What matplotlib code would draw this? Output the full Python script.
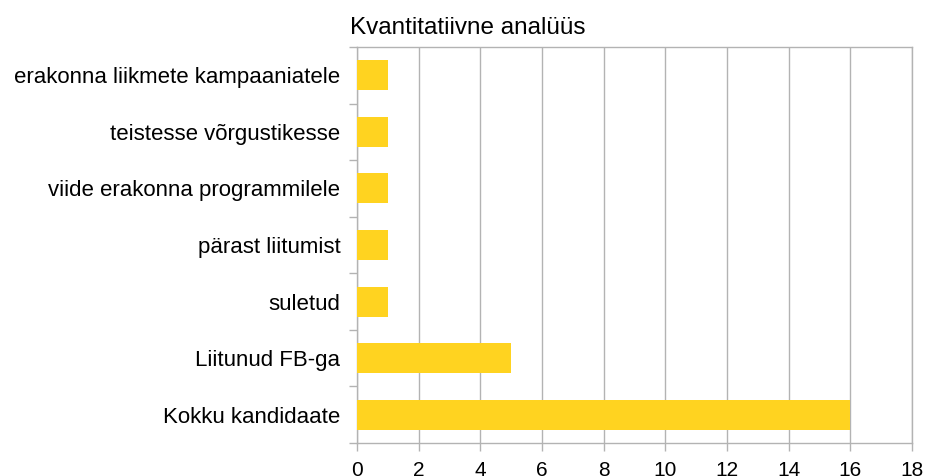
import numpy as np
import matplotlib.pyplot as plt
from matplotlib.ticker import FixedLocator

plt.rcParams['font.family'] = ['Liberation Sans', 'DejaVu Sans']

# data
categories = ['Kokku kandidaate', 'Liitunud FB-ga', 'suletud', 'pärast liitumist',
              'viide erakonna programmilele', 'teistesse võrgustikesse',
              'erakonna liikmete kampaaniatele']
values = [16, 5, 1, 1, 1, 1, 1]
x_ticks = list(range(0, 19, 2))

grid_col = '#b3b3b3'

fig = plt.figure(figsize=(9.26, 4.76), dpi=100)
ax = fig.add_axes([357 / 926, 1 - 443 / 476, 555 / 926, 396 / 476])

y = np.arange(len(categories))
ax.barh(y, values, height=0.53, color='#ffd320', zorder=3)

ax.set_xlim(0, 18)
ax.set_ylim(-0.5, len(categories) - 0.5)
ax.set_xticks(x_ticks)
ax.set_yticks(y)
ax.set_yticklabels(categories)
ax.yaxis.set_minor_locator(FixedLocator(np.arange(-0.5, len(categories), 1)))
ax.tick_params(axis='y', which='major', length=0, pad=12, labelsize=16)
ax.tick_params(axis='y', which='minor', length=6, width=1, color=grid_col)
ax.tick_params(axis='x', length=6, width=1, color=grid_col, labelsize=15, pad=7)

ax.grid(axis='x', color=grid_col, linewidth=1, zorder=0)
for side in ['left', 'bottom', 'top', 'right']:
    ax.spines[side].set_color(grid_col)
    ax.spines[side].set_linewidth(1)

fig.text(0.505, 1 - 28 / 476, 'Kvantitatiivne analüüs', ha='center', va='center', fontsize=17.5)

fig.savefig('out.png', dpi=100)
